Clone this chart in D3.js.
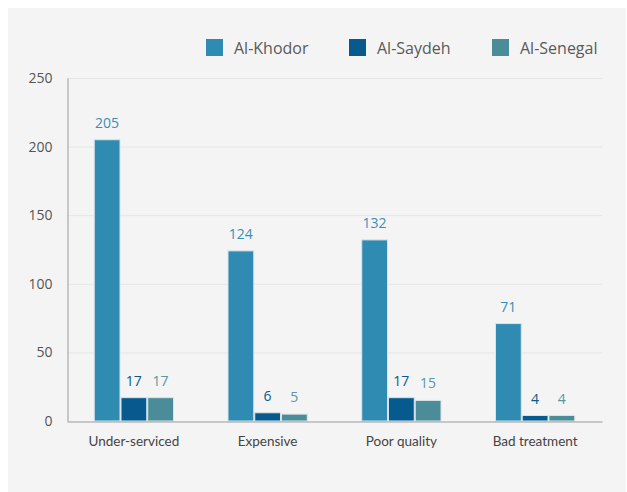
<!DOCTYPE html>
<html>
<head>
<meta charset="utf-8">
<script src="https://cdn.jsdelivr.net/npm/d3@7/dist/d3.min.js"></script>
<style>
  html, body { margin: 0; padding: 0; background: #ffffff; }
  svg { display: block; }
</style>
</head>
<body>
<svg id="chart" width="627" height="492"></svg>
<script>
// Complaint categories and counts per area
const categories = ["Under-serviced", "Expensive", "Poor quality", "Bad treatment"];
const seriesNames = ["Al-Khodor", "Al-Saydeh", "Al-Senegal"];
const alKhodor = [205, 124, 132, 71];
const alSaydeh = [17, 6, 17, 4];
const alSenegal = [17, 5, 15, 4];
const yTicks = [0, 50, 100, 150, 200, 250];

const seriesValues = [alKhodor, alSaydeh, alSenegal];
const colors = ["#2f8bb1", "#065a8e", "#4a8c97"];
const labelColors = ["#3a8fb8", "#0b5a8d", "#5a97a2"];

const svg = d3.select("#chart");
const W = 627, H = 492;
const margin = { left: 67, right: 25, top: 78, bottom: 71 };

// panel background
svg.append("rect").attr("x", 8).attr("y", 8).attr("width", W - 9).attr("height", H - 8)
  .attr("fill", "#f4f4f4");

const x0 = d3.scaleBand().domain(categories)
  .range([margin.left, W - margin.right])
  .paddingInner(0.4).paddingOuter(0.2);
const x1 = d3.scaleBand().domain(seriesNames).range([0, x0.bandwidth()]).padding(0);
const y = d3.scaleLinear().domain([0, 250]).range([H - margin.bottom, margin.top]);

// horizontal gridlines
svg.append("g").selectAll("line").data(yTicks.filter(t => t > 0)).join("line")
  .attr("x1", margin.left).attr("x2", W - margin.right)
  .attr("y1", d => y(d) + 0.5).attr("y2", d => y(d) + 0.5)
  .attr("stroke", "#e6e6e6").attr("stroke-width", 1);

// y axis
const yAxis = d3.axisLeft(y).tickValues(yTicks).tickSize(0).tickPadding(15);
const gy = svg.append("g").attr("transform", `translate(${margin.left + 0.5},0)`).call(yAxis);
gy.select(".domain").attr("stroke", "#9a9a9a");
gy.selectAll("text").attr("font-family", "'Open Sans', sans-serif").attr("font-size", 14)
  .attr("fill", "#555");

// bars
const groups = svg.append("g").selectAll("g").data(categories).join("g")
  .attr("transform", d => `translate(${x0(d)},0)`);

groups.selectAll("rect")
  .data((c, i) => seriesNames.map((s, k) => ({ s, k, v: seriesValues[k][i] })))
  .join("rect")
  .attr("x", d => x1(d.s) + 0.5)
  .attr("y", d => y(d.v))
  .attr("width", x1.bandwidth() - 1)
  .attr("height", d => y(0) - y(d.v))
  .attr("fill", d => colors[d.k])
  .attr("stroke", "#d8e4ea").attr("stroke-width", 1);

groups.selectAll("text")
  .data((c, i) => seriesNames.map((s, k) => ({ s, k, v: seriesValues[k][i] })))
  .join("text")
  .attr("x", d => x1(d.s) + x1.bandwidth() / 2)
  .attr("y", d => y(d.v) - 12)
  .attr("text-anchor", "middle")
  .attr("font-family", "'Open Sans', sans-serif").attr("font-size", 14)
  .attr("fill", d => labelColors[d.k])
  .text(d => d.v);

// x axis
const xAxis = d3.axisBottom(x0).tickSize(0).tickPadding(15);
const gx = svg.append("g").attr("transform", `translate(0,${y(0) + 0.5})`).call(xAxis);
gx.select(".domain").attr("stroke", "#9a9a9a");
gx.selectAll("text").attr("font-family", "Lato, sans-serif").attr("font-size", 13.5)
  .attr("fill", "#444");

// legend
const legendX = [206, 349, 492];
const legend = svg.append("g").selectAll("g").data(seriesNames).join("g")
  .attr("transform", (d, i) => `translate(${legendX[i]},39)`);
legend.append("rect").attr("width", 17).attr("height", 17)
  .attr("fill", (d, i) => colors[i]);
legend.append("text").attr("x", 28).attr("y", 14.5)
  .attr("font-family", "'Open Sans', sans-serif").attr("font-size", 16)
  .attr("fill", "#5a5a5a")
  .text(d => d);
</script>
</body>
</html>
